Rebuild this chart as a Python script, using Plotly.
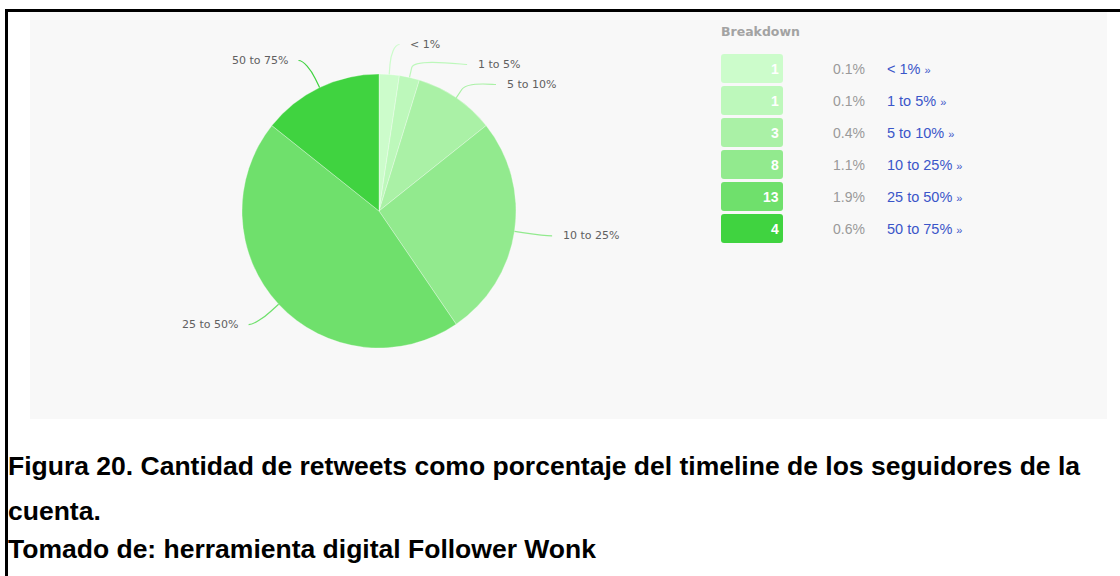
import math
import plotly.graph_objects as go

# Retweet share of followers' timelines (Follower Wonk breakdown)
categories = ["< 1%", "1 to 5%", "5 to 10%", "10 to 25%", "25 to 50%", "50 to 75%"]
counts = [1, 1, 3, 8, 13, 4]
percents = [0.1, 0.1, 0.4, 1.1, 1.9, 0.6]
colors = ["#ccfccb", "#bdf8bb", "#aaf1a6", "#92ea8e", "#6fe06c", "#40d340"]

caption_lines = [
    "Figura 20. Cantidad de retweets como porcentaje del timeline de los seguidores de la",
    "cuenta.",
    "Tomado de: herramienta digital Follower Wonk",
]

W, H = 1120, 576
CX, CY, R = 379, 211, 137          # pie centre and radius in px
LABEL_DIST = 30

fig = go.Figure()

fig.add_trace(go.Pie(
    labels=categories,
    values=percents,
    sort=False,
    direction="clockwise",
    rotation=0,
    marker=dict(colors=colors, line=dict(color="rgba(255,255,255,0.3)", width=1)),
    textinfo="none",
    hovertemplate="%{label}: %{value}%<extra></extra>",
    showlegend=False,
    domain=dict(x=[(CX - R) / W, (CX + R) / W], y=[1 - (CY + R) / H, 1 - (CY - R) / H]),
))

shapes = []
annotations = []

# outer frame and grey panel
shapes.append(dict(type="rect", x0=30, x1=1107, y0=12, y1=419, xref="x", yref="y",
                   fillcolor="#f8f8f8", line=dict(width=0), layer="below"))
shapes.append(dict(type="line", x0=5, x1=W, y0=10.5, y1=10.5, xref="x", yref="y",
                   line=dict(color="#000000", width=3)))
shapes.append(dict(type="line", x0=6.5, x1=6.5, y0=9, y1=H, xref="x", yref="y",
                   line=dict(color="#000000", width=3)))

# slice label positions with connectors
total = sum(percents)
acc = 0.0
labels_info = []
for cat, val, col in zip(categories, percents, colors):
    mid = (acc + val / 2) / total * 2 * math.pi
    acc += val
    s, c = math.sin(mid), math.cos(mid)
    labels_info.append(dict(
        cat=cat, col=col, s=s, c=c,
        px=CX + R * s, py=CY - R * c,
        bx=CX + (R + 10) * s, by=CY - (R + 10) * c,
        ly=CY - (R + LABEL_DIST) * c,
        right=s >= 0,
    ))

for side in (True, False):
    group = sorted([d for d in labels_info if d["right"] == side], key=lambda d: d["ly"])
    prev = None
    for d in group:
        if prev is not None and d["ly"] < prev + 20:
            d["ly"] = prev + 20
        prev = d["ly"]

for d in labels_info:
    dy = d["ly"] - CY
    dx = math.sqrt(max(0.0, (R + LABEL_DIST) ** 2 - dy ** 2)) + 8
    sign = 1 if d["right"] else -1
    ex = CX + sign * dx
    if sign * (ex - d["bx"]) < 8:
        ex = d["bx"] + sign * 8
    c2x, c2y = 2 * d["bx"] - d["px"], 2 * d["by"] - d["py"]
    path = (f"M {ex:.1f},{d['ly']:.1f} C {ex - sign * 5:.1f},{d['ly']:.1f} "
            f"{c2x:.1f},{c2y:.1f} {d['bx']:.1f},{d['by']:.1f} L {d['px']:.1f},{d['py']:.1f}")
    shapes.append(dict(type="path", path=path, xref="x", yref="y",
                       line=dict(color=d["col"], width=1.2)))
    annotations.append(dict(
        x=ex + sign * 9, y=d["ly"], xref="x", yref="y", text=d["cat"], showarrow=False,
        xanchor="left" if d["right"] else "right", yanchor="middle",
        font=dict(family="DejaVu Sans", size=11, color="#606060"),
    ))

# breakdown table
BX0, BX1, ROW0, PITCH, BOX_H = 721, 783, 54, 32, 29
annotations.append(dict(x=BX0 - 2, y=31, xref="x", yref="y", text="<b>Breakdown</b>", showarrow=False,
                        xanchor="left", yanchor="middle",
                        font=dict(family="DejaVu Sans", size=12.5, color="#a3a3a3")))


def rounded_rect(x0, y0, x1, y1, r):
    return (f"M {x0 + r},{y0} L {x1 - r},{y0} Q {x1},{y0} {x1},{y0 + r} "
            f"L {x1},{y1 - r} Q {x1},{y1} {x1 - r},{y1} L {x0 + r},{y1} "
            f"Q {x0},{y1} {x0},{y1 - r} L {x0},{y0 + r} Q {x0},{y0} {x0 + r},{y0} Z")


for i, (cat, n, pct, col) in enumerate(zip(categories, counts, percents, colors)):
    top = ROW0 + i * PITCH
    mid_y = top + BOX_H / 2
    shapes.append(dict(type="path", path=rounded_rect(BX0, top, BX1, top + BOX_H, 3),
                       xref="x", yref="y", fillcolor=col, line=dict(width=0)))
    annotations.append(dict(x=BX1 - 2, y=mid_y, xref="x", yref="y", text=f"<b>{n}</b>",
                            showarrow=False, xanchor="right", yanchor="middle",
                            font=dict(family="Liberation Sans", size=14, color="#ffffff")))
    annotations.append(dict(x=831, y=mid_y, xref="x", yref="y", text=f"{pct:.1f}%",
                            showarrow=False, xanchor="left", yanchor="middle",
                            font=dict(family="Liberation Sans", size=14, color="#9a9a9a")))
    annotations.append(dict(x=885, y=mid_y, xref="x", yref="y",
                            text=f"{cat} <span style='font-size:11px'>»</span>",
                            showarrow=False, xanchor="left", yanchor="middle",
                            font=dict(family="Liberation Sans", size=14.5, color="#3a56c9")))

# caption
for txt, y in zip(caption_lines, [466, 511, 549]):
    annotations.append(dict(x=6, y=y, xref="x", yref="y", text=f"<b>{txt}</b>", showarrow=False,
                            xanchor="left", yanchor="middle",
                            font=dict(family="Liberation Sans", size=26.5, color="#000000")))

fig.update_layout(
    width=W, height=H,
    margin=dict(l=0, r=0, t=0, b=0),
    paper_bgcolor="#ffffff",
    plot_bgcolor="rgba(0,0,0,0)",
    xaxis=dict(range=[0, W], visible=False, fixedrange=True),
    yaxis=dict(range=[H, 0], visible=False, fixedrange=True),
    shapes=shapes,
    annotations=annotations,
)

fig.write_html("out.html")
